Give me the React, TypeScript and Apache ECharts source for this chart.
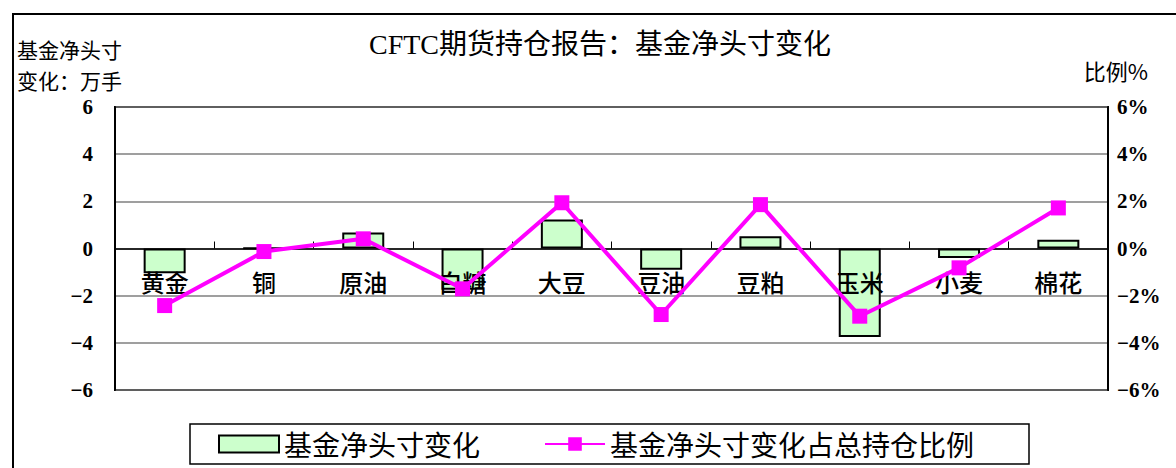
import React, { useEffect, useRef } from "react";
import * as echarts from "echarts";

const categories = ["黄金", "铜", "原油", "白糖", "大豆", "豆油", "豆粕", "玉米", "小麦", "棉花"];
const netChange = [-1.05, 0.02, 0.68, -1.75, 1.23, -0.9, 0.52, -3.75, -0.4, 0.37];
const netChangePct = [-2.42, -0.13, 0.41, -1.71, 1.94, -2.8, 1.86, -2.87, -0.82, 1.72];
const leftTicks = { min: -6, max: 6, interval: 2 };
const rightTicks = { min: -6, max: 6, interval: 2 };
const titleText = "CFTC期货持仓报告：基金净头寸变化";
const leftName = ["基金净头寸", "变化：万手"];
const rightName = "比例%";
const barName = "基金净头寸变化";
const lineName = "基金净头寸变化占总持仓比例";

const CJK = "'Noto Sans CJK SC', sans-serif";
const SERIF = "'Liberation Serif', 'Noto Sans CJK SC', serif";

const GRID_TOP = 107;
const GRID_BOTTOM_Y = 390;

export default function App() {
  const ref = useRef<HTMLDivElement>(null);
  useEffect(() => {
    if (!ref.current) return;
    const chart = echarts.init(ref.current, null, { renderer: "svg" });
    const plotH = GRID_BOTTOM_Y - GRID_TOP;
    const zeroOffset = -plotH * (0 - leftTicks.min) / (leftTicks.max - leftTicks.min);
    chart.setOption({
      animation: false,
      backgroundColor: "#fff",
      grid: {
        left: 115,
        right: 68,
        top: GRID_TOP,
        bottom: 468 - GRID_BOTTOM_Y,
        show: true,
        borderColor: "#000",
        borderWidth: 2,
      },
      graphic: [
        {
          type: "rect",
          shape: { x: 13, y: 14, width: 1200, height: 500 },
          style: { fill: "none", stroke: "#000", lineWidth: 2 },
          silent: true,
        },
        {
          type: "text",
          x: 600,
          y: 44,
          style: {
            text: titleText,
            font: `28px ${SERIF}`,
            fill: "#000",
            textAlign: "center",
            textVerticalAlign: "middle",
          },
        },
        {
          type: "text",
          x: 17,
          y: 49,
          style: {
            text: leftName[0],
            font: `21px ${CJK}`,
            fill: "#000",
            textAlign: "left",
            textVerticalAlign: "middle",
          },
        },
        {
          type: "text",
          x: 17,
          y: 80,
          style: {
            text: leftName[1],
            font: `21px ${CJK}`,
            fill: "#000",
            textAlign: "left",
            textVerticalAlign: "middle",
          },
        },
        {
          type: "text",
          x: 1148,
          y: 70,
          style: {
            text: rightName,
            font: `22px ${CJK}`,
            fill: "#000",
            textAlign: "right",
            textVerticalAlign: "middle",
          },
        },
      ],
      legend: {
        left: 190,
        top: 424,
        padding: [6, 55, 6, 28],
        itemGap: 64,
        itemWidth: 60,
        itemHeight: 17,
        borderColor: "#000",
        borderWidth: 1.5,
        textStyle: { fontFamily: CJK, fontSize: 28, color: "#000" },
        data: [{ name: barName, icon: "rect" }, { name: lineName }],
      },
      xAxis: {
        type: "category",
        data: categories,
        offset: zeroOffset,
        z: 4,
        axisLine: { onZero: false, lineStyle: { color: "#000", width: 1.5 } },
        axisTick: { show: true, inside: true, length: 7, lineStyle: { color: "#000", width: 1 } },
        axisLabel: { margin: 21, fontFamily: CJK, fontSize: 24, fontWeight: 500, color: "#000" },
      },
      yAxis: [
        {
          type: "value",
          min: leftTicks.min,
          max: leftTicks.max,
          interval: leftTicks.interval,
          axisLine: { show: true, lineStyle: { color: "#000", width: 2 } },
          axisTick: { show: false },
          splitLine: { show: true, lineStyle: { color: "#7f7f7f", width: 1.5 } },
          axisLabel: {
            margin: 22,
            fontFamily: SERIF,
            fontWeight: "bold",
            fontSize: 21,
            color: "#000",
            formatter: (v: number) => String(v).replace("-", "−"),
          },
        },
        {
          type: "value",
          min: rightTicks.min,
          max: rightTicks.max,
          interval: rightTicks.interval,
          position: "right",
          axisLine: { show: true, lineStyle: { color: "#000", width: 2 } },
          axisTick: { show: false },
          splitLine: { show: false },
          axisLabel: {
            margin: 9,
            fontFamily: SERIF,
            fontWeight: "bold",
            fontSize: 21,
            color: "#000",
            formatter: (v: number) => `${String(v).replace("-", "−")}%`,
          },
        },
      ],
      series: [
        {
          name: barName,
          type: "bar",
          data: netChange,
          barWidth: 42,
          yAxisIndex: 0,
          z: 2,
          itemStyle: { color: "#CCFFCC", borderColor: "#000", borderWidth: 2 },
        },
        {
          name: lineName,
          type: "line",
          data: netChangePct,
          yAxisIndex: 1,
          symbol: "rect",
          symbolSize: 15,
          lineStyle: { color: "#FF00FF", width: 4 },
          itemStyle: { color: "#FF00FF" },
          z: 6,
        },
      ],
    });
    return () => chart.dispose();
  }, []);
  return (
    <div
      ref={ref}
      style={{ position: "fixed", left: 0, top: 0, width: 1176, height: 468 }}
    />
  );
}
